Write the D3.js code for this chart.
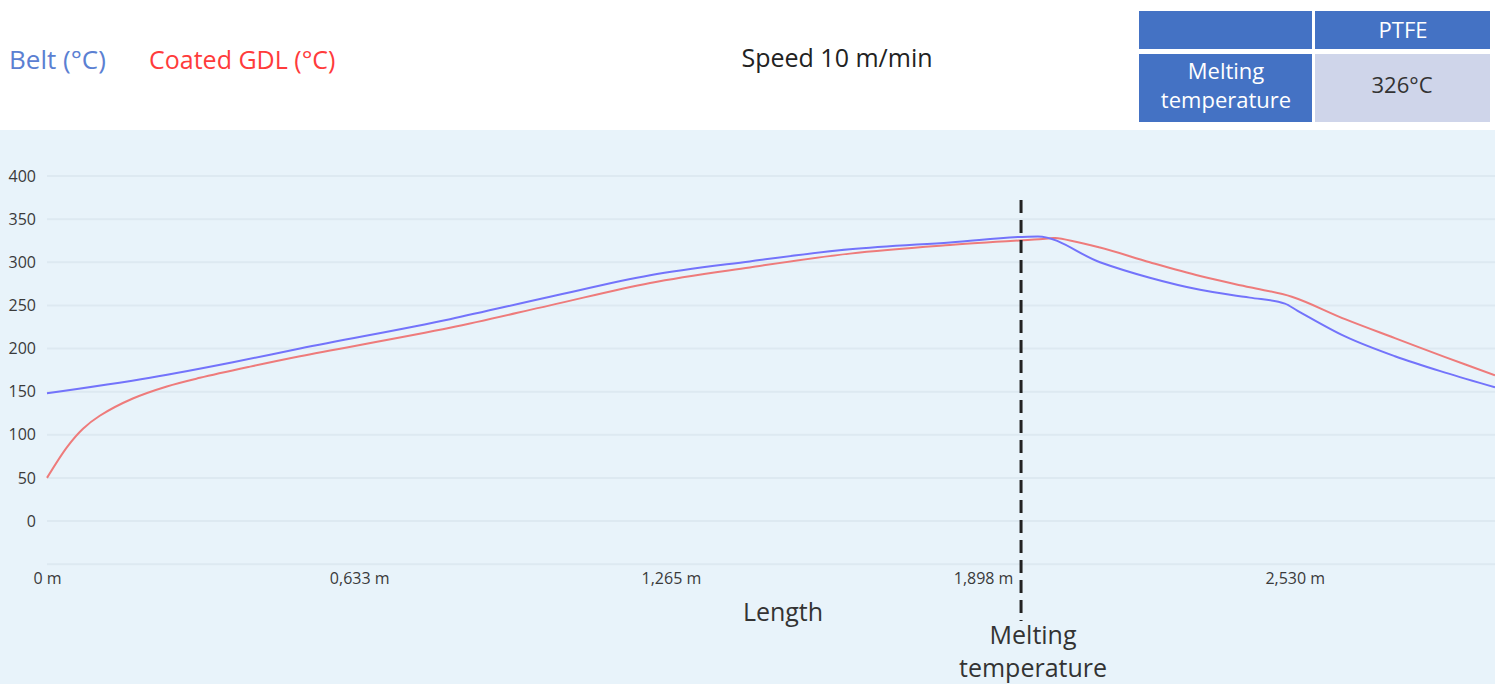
<!DOCTYPE html>
<html>
<head>
<meta charset="utf-8">
<script src="https://cdn.jsdelivr.net/npm/d3@7"></script>
<style>
  body { margin: 0; background: #fff; font-family: "Open Sans", "Noto Sans", sans-serif; }
  svg text { font-family: "Open Sans", "Noto Sans", sans-serif; }
</style>
</head>
<body>
<div id="chart"></div>
<script>
// length along the belt (m) and temperatures (°C)
var beltLength = [0, 0.209, 0.377, 0.513, 0.817, 1.02, 1.223, 1.425, 1.628, 1.831, 2.009, 2.135, 2.236, 2.338, 2.439, 2.51, 2.535, 2.632, 2.733, 2.835, 2.936];
var beltTemp   = [148, 166, 184, 200, 234, 260, 285, 301, 315, 323, 330, 300, 282, 268, 259, 252, 244, 214, 191, 172, 155];

var gdlLength = [0, 0.041, 0.073, 0.107, 0.174, 0.243, 0.31, 0.412, 0.513, 0.817, 1.02, 1.223, 1.425, 1.628, 1.831, 2.019, 2.044, 2.135, 2.236, 2.338, 2.439, 2.524, 2.632, 2.733, 2.835, 2.936];
var gdlTemp   = [50, 86, 107, 122, 142, 156, 166, 179, 191, 224, 250, 276, 294, 310, 320, 327, 328, 317, 300, 284, 271, 260, 234, 212, 190, 169];

var xTicks = [0, 0.633, 1.265, 1.898, 2.530];
var yTicks = [0, 50, 100, 150, 200, 250, 300, 350, 400];
var gridTicks = [-50, 0, 50, 100, 150, 200, 250, 300, 350, 400];
var meltingLength = 1.975;

var tableHead = ["", "PTFE"];
var tableRow = [["Melting", "temperature"], ["326°C"]];

var W = 1495, H = 684;
var cfg = { left: 47, right: 1495, top: 176, zero: 521 };

var svg = d3.select("#chart").append("svg")
  .attr("width", W)
  .attr("height", H);

// plot background
svg.append("rect")
  .attr("x", 0).attr("y", 130)
  .attr("width", W).attr("height", H - 130)
  .style("fill", "#e8f3fa");

var xScale = d3.scaleLinear()
  .domain([0, 2.936])
  .range([cfg.left, cfg.right]);

var yScale = d3.scaleLinear()
  .domain([0, 400])
  .range([cfg.zero, cfg.top]);

// grid lines
svg.append("g").selectAll("line")
  .data(gridTicks)
  .enter()
  .append("line")
  .attr("x1", cfg.left).attr("x2", W)
  .attr("y1", function(d) { return yScale(d); })
  .attr("y2", function(d) { return yScale(d); })
  .style("stroke", "#dde9f1")
  .style("stroke-width", 2);

// y axis labels
var yAxis = d3.axisLeft(yScale).tickValues(yTicks).tickSize(0).tickPadding(0);
svg.append("g")
  .attr("transform", "translate(36,0)")
  .call(yAxis)
  .call(function(g) { g.select(".domain").remove(); })
  .selectAll("text")
  .style("font-size", "16px")
  .style("fill", "#3a3a3a");

// x axis labels
var fmt = d3.formatLocale({ decimal: ",", thousands: ".", grouping: [3], currency: ["", ""] }).format(".3f");
var xAxis = d3.axisBottom(xScale)
  .tickValues(xTicks)
  .tickSize(0)
  .tickFormat(function(d) { return d === 0 ? "0 m" : fmt(d) + " m"; });
svg.append("g")
  .attr("transform", "translate(0,570)")
  .call(xAxis)
  .call(function(g) { g.select(".domain").remove(); })
  .selectAll("text")
  .style("font-size", "16px")
  .style("fill", "#3a3a3a");

// lines
var beltData = beltLength.map(function(d, i) { return { x: d, y: beltTemp[i] }; });
var gdlData = gdlLength.map(function(d, i) { return { x: d, y: gdlTemp[i] }; });

var beltLine = d3.line()
  .x(function(d) { return xScale(d.x); })
  .y(function(d) { return yScale(d.y); })
  .curve(d3.curveMonotoneX);

var gdlLine = d3.line()
  .x(function(d) { return xScale(d.x); })
  .y(function(d) { return yScale(d.y); })
  .curve(d3.curveCatmullRom.alpha(0.5));

svg.append("path")
  .datum(gdlData)
  .attr("d", gdlLine)
  .style("fill", "none")
  .style("stroke", "#ee7b7b")
  .style("stroke-width", 2);

svg.append("path")
  .datum(beltData)
  .attr("d", beltLine)
  .style("fill", "none")
  .style("stroke", "#7373fb")
  .style("stroke-width", 2);

// melting temperature marker
svg.append("line")
  .attr("x1", xScale(meltingLength)).attr("x2", xScale(meltingLength))
  .attr("y1", 200).attr("y2", 621)
  .style("stroke", "#222")
  .style("stroke-width", 3)
  .style("stroke-dasharray", "13,7");

svg.append("text")
  .attr("x", xScale(meltingLength) + 12).attr("y", 644)
  .attr("text-anchor", "middle")
  .style("font-size", "25px").style("fill", "#333")
  .text("Melting");
svg.append("text")
  .attr("x", xScale(meltingLength) + 12).attr("y", 677)
  .attr("text-anchor", "middle")
  .style("font-size", "25px").style("fill", "#333")
  .text("temperature");

// axis title
svg.append("text")
  .attr("x", 783).attr("y", 621)
  .attr("text-anchor", "middle")
  .style("font-size", "25px").style("fill", "#333")
  .text("Length");

// legend + title
svg.append("text")
  .attr("x", 9).attr("y", 69)
  .style("font-size", "26px").style("fill", "#5b80d2")
  .text("Belt (°C)");
svg.append("text")
  .attr("x", 149).attr("y", 69)
  .style("font-size", "25px").style("fill", "#ff3b3b")
  .text("Coated GDL (°C)");
svg.append("text")
  .attr("x", 837).attr("y", 67)
  .attr("text-anchor", "middle")
  .style("font-size", "25px").style("fill", "#222")
  .text("Speed 10 m/min");

// PTFE table
var tbl = svg.append("g");
tbl.append("rect").attr("x", 1139).attr("y", 11).attr("width", 173).attr("height", 38).style("fill", "#4472c4");
tbl.append("rect").attr("x", 1315).attr("y", 11).attr("width", 175).attr("height", 38).style("fill", "#4472c4");
tbl.append("rect").attr("x", 1139).attr("y", 54).attr("width", 173).attr("height", 68).style("fill", "#4472c4");
tbl.append("rect").attr("x", 1315).attr("y", 54).attr("width", 175).attr("height", 68).style("fill", "#cfd5ea");

tbl.append("text")
  .attr("x", 1403).attr("y", 38)
  .attr("text-anchor", "middle")
  .style("font-size", "22px").style("fill", "#fff")
  .text(tableHead[1]);
tbl.selectAll(".rowHead")
  .data(tableRow[0])
  .enter()
  .append("text")
  .attr("x", 1226)
  .attr("y", function(d, i) { return 79 + i * 29; })
  .attr("text-anchor", "middle")
  .style("font-size", "22px").style("fill", "#fff")
  .text(function(d) { return d; });
tbl.append("text")
  .attr("x", 1402).attr("y", 93)
  .attr("text-anchor", "middle")
  .style("font-size", "22px").style("fill", "#333")
  .text(tableRow[1][0]);
</script>
</body>
</html>
